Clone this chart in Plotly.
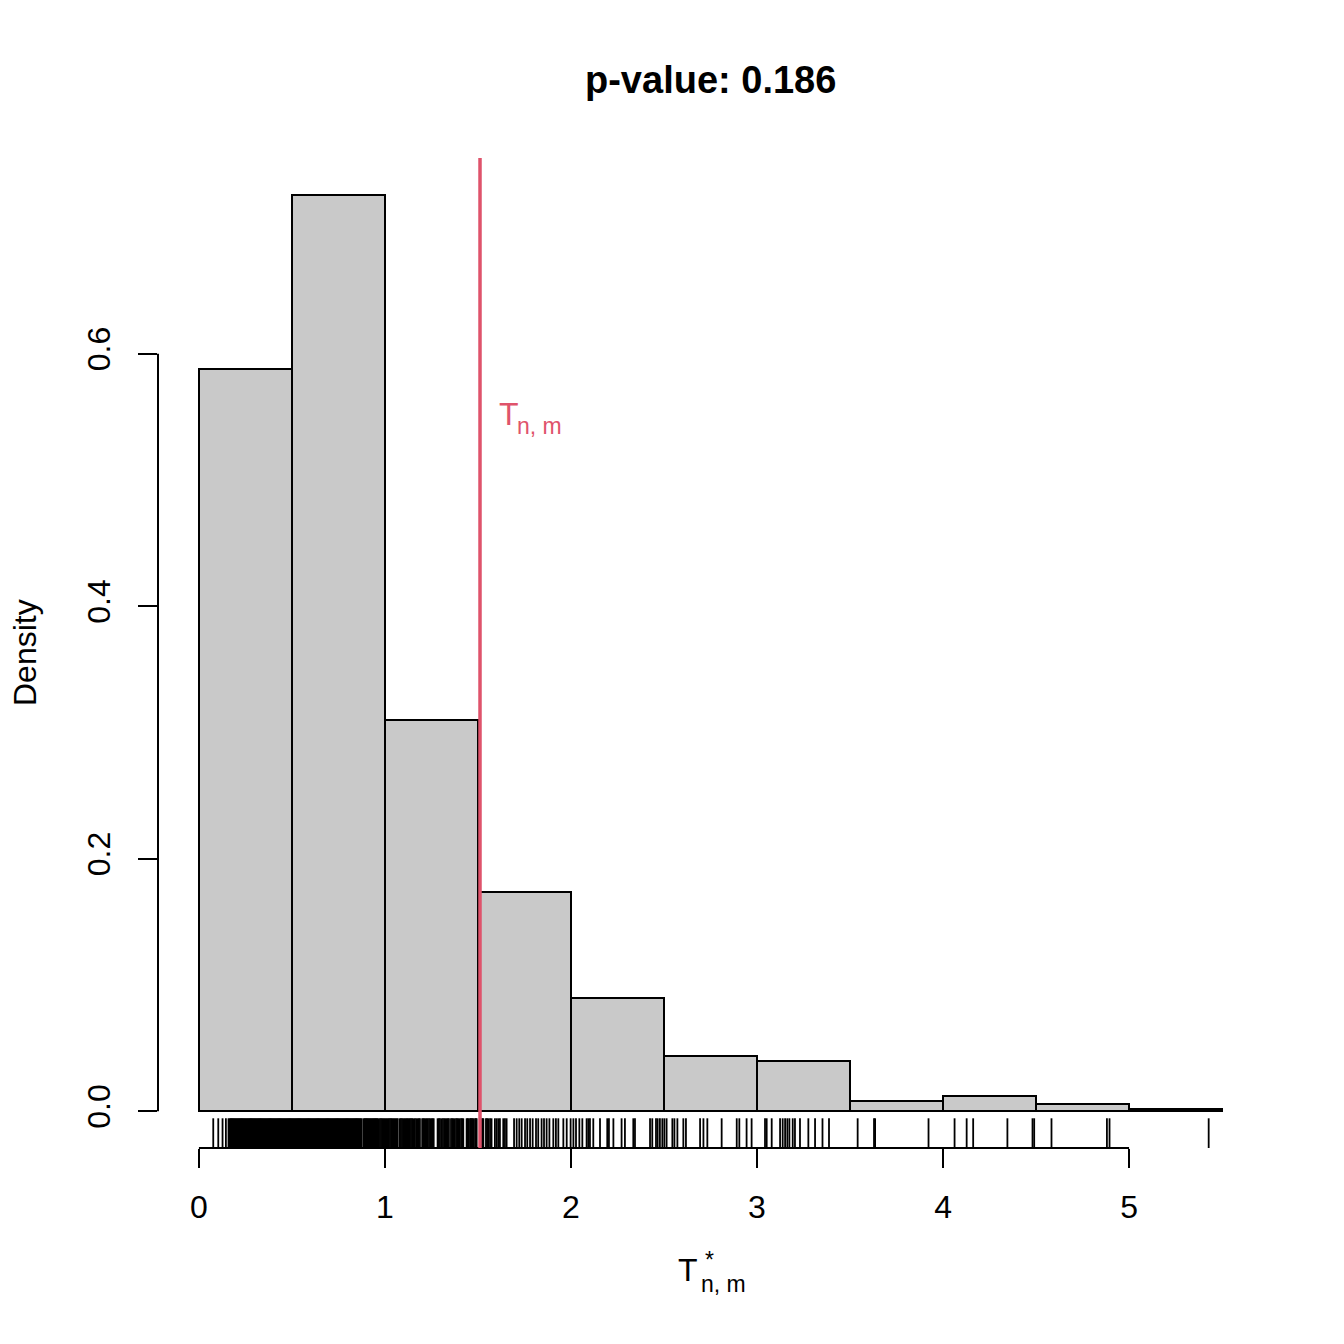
import plotly.graph_objects as go

# ---- data ----
bin_left = [0.0, 0.5, 1.0, 1.5, 2.0, 2.5, 3.0, 3.5, 4.0, 4.5, 5.0]
bin_width = 0.5
counts = [294, 363, 155, 87, 45, 22, 20, 4, 6, 3, 1]
n_total = 1000
t_stat = 1.511
p_value_text = "p-value: 0.186"
x_ticks = [0, 1, 2, 3, 4, 5]
y_ticks = [0.0, 0.2, 0.4, 0.6]
y_tick_text = ["0.0", "0.2", "0.4", "0.6"]

rug_low = [0.077, 0.104, 0.127, 0.145, 0.159]
rug_dense = [
    0.166, 0.172, 0.178, 0.184, 0.190, 0.196, 0.202, 0.208, 0.214, 0.220,
    0.226, 0.232, 0.238, 0.244, 0.250, 0.256, 0.262, 0.268, 0.274, 0.280,
    0.286, 0.292, 0.298, 0.304, 0.310, 0.316, 0.322, 0.328, 0.334, 0.340,
    0.346, 0.352, 0.358, 0.364, 0.370, 0.376, 0.382, 0.388, 0.394, 0.400,
    0.406, 0.412, 0.418, 0.424, 0.430, 0.436, 0.442, 0.448, 0.454, 0.460,
    0.466, 0.472, 0.478, 0.484, 0.490, 0.496, 0.502, 0.508, 0.514, 0.520,
    0.526, 0.532, 0.538, 0.544, 0.550, 0.556, 0.562, 0.568, 0.574, 0.580,
    0.586, 0.592, 0.598, 0.604, 0.610, 0.616, 0.622, 0.628, 0.634, 0.640,
    0.646, 0.652, 0.658, 0.664, 0.670, 0.676, 0.682, 0.688, 0.694, 0.700,
    0.706, 0.712, 0.718, 0.724, 0.730, 0.736, 0.742, 0.748, 0.754, 0.760,
    0.766, 0.772, 0.778, 0.784, 0.790, 0.796, 0.802, 0.808, 0.814, 0.820,
    0.826, 0.832, 0.838, 0.844, 0.850, 0.856, 0.862, 0.868, 0.874,
    0.886, 0.892, 0.898, 0.904, 0.910, 0.916, 0.922, 0.928, 0.934, 0.940,
    0.946, 0.952, 0.958, 0.964]
rug_mid = [
    0.973, 0.979, 0.985, 0.991, 0.997, 1.003, 1.009, 1.015, 1.021, 1.027,
    1.033, 1.039, 1.045, 1.051, 1.057, 1.063, 1.069, 1.080, 1.086, 1.092,
    1.099, 1.105, 1.111, 1.117, 1.122, 1.128, 1.134, 1.140, 1.146, 1.152,
    1.161, 1.168, 1.176, 1.182, 1.188, 1.200, 1.206, 1.211, 1.218, 1.224,
    1.230, 1.237, 1.244, 1.251, 1.256, 1.262, 1.283, 1.290, 1.296, 1.305,
    1.312, 1.319, 1.325, 1.332, 1.338, 1.344, 1.355, 1.361, 1.367, 1.374,
    1.382, 1.388, 1.394, 1.401, 1.409, 1.415, 1.421, 1.439, 1.444, 1.448,
    1.457, 1.462, 1.466, 1.471, 1.475, 1.484, 1.489, 1.493, 1.520, 1.525,
    1.529, 1.543, 1.549, 1.556, 1.565, 1.573, 1.591, 1.600, 1.609, 1.618,
    1.636, 1.645, 1.654, 1.694, 1.708, 1.722, 1.735, 1.753, 1.765, 1.780,
    1.794, 1.812, 1.824, 1.842, 1.855, 1.869, 1.884, 1.905, 1.919, 1.932,
    1.959, 1.977, 1.998, 2.013, 2.027, 2.045, 2.061, 2.084, 2.093, 2.102,
    2.120, 2.156, 2.195, 2.204, 2.228, 2.272, 2.290, 2.335, 2.344, 2.425,
    2.437, 2.457, 2.466, 2.478, 2.491, 2.502, 2.514, 2.545, 2.556, 2.572,
    2.604, 2.618, 2.694, 2.712, 2.733, 2.810, 2.891, 2.905, 2.944, 2.971,
    3.043, 3.052, 3.079, 3.124, 3.138, 3.151, 3.163, 3.174, 3.192, 3.204,
    3.231, 3.276, 3.312, 3.352, 3.387]
rug_high = [3.541, 3.629, 3.635, 3.922, 4.062, 4.127, 4.162, 4.346, 4.481,
            4.490, 4.583, 4.881, 4.895, 5.428]

# ---- derived ----
density = [c / (n_total * bin_width) for c in counts]
centers = [b + bin_width / 2 for b in bin_left]
ymax = max(density)
y_lo = -0.04 * ymax
y_hi = 1.04 * ymax
span = bin_left[-1] + bin_width - bin_left[0]
x_lo = bin_left[0] - 0.04 * span
x_hi = bin_left[-1] + bin_width + 0.04 * span
rug_top = y_lo + 0.03 * (y_hi - y_lo)

FONT = "Liberation Sans, Arial, Helvetica, sans-serif"
RED = "#DF536B"

fig = go.Figure()
fig.add_trace(go.Bar(
    x=centers, y=density, width=bin_width,
    marker=dict(color="#C9C9C9", line=dict(color="black", width=2)),
    hoverinfo="skip", showlegend=False))


def rug_xy(vals):
    rx, ry = [], []
    for v in vals:
        rx += [v, v, None]
        ry += [y_lo, rug_top, None]
    return rx, ry


for vals, w in [(rug_dense, 2.2), (rug_low + rug_mid + rug_high, 1.8)]:
    rx, ry = rug_xy(vals)
    fig.add_trace(go.Scatter(x=rx, y=ry, mode="lines",
                             line=dict(color="black", width=w),
                             hoverinfo="skip", showlegend=False))

shapes = [
    dict(type="line", xref="x", yref="paper", x0=x_ticks[0], x1=x_ticks[-1],
         y0=0, y1=0, line=dict(color="black", width=2)),
    dict(type="line", xref="paper", yref="y", x0=0, x1=0,
         y0=y_ticks[0], y1=y_ticks[-1], line=dict(color="black", width=2)),
    dict(type="line", xref="x", yref="paper", x0=t_stat, x1=t_stat,
         y0=0, y1=1, line=dict(color=RED, width=3.5)),
]

annotations = [
    dict(text="<b>" + p_value_text + "</b>", xref="paper", yref="paper",
         x=0.5, y=(1344 - 80 - 196) / 990, xanchor="center", yanchor="middle",
         showarrow=False, font=dict(family=FONT, size=38, color="black")),
    dict(text="Density", xref="paper", yref="paper",
         x=(25 - 158) / 1105, y=(1148 - 653) / 990, textangle=-90,
         xanchor="center", yanchor="middle", showarrow=False,
         font=dict(family=FONT, size=32, color="black")),
    # x-axis title T*_{n, m}
    dict(text="T", xref="paper", yref="paper",
         x=(688 - 158) / 1105, y=(1148 - 1270) / 990,
         xanchor="center", yanchor="middle", showarrow=False,
         font=dict(family=FONT, size=32, color="black")),
    dict(text="*", xref="paper", yref="paper",
         x=(709 - 158) / 1105, y=(1148 - 1260) / 990,
         xanchor="center", yanchor="middle", showarrow=False,
         font=dict(family=FONT, size=23, color="black")),
    dict(text="n, m", xref="paper", yref="paper",
         x=(699 - 158) / 1105, y=(1148 - 1284) / 990,
         xanchor="left", yanchor="middle", showarrow=False,
         font=dict(family=FONT, size=23, color="black")),
    # red label T_{n, m}
    dict(text="T", xref="x", yref="y", x=t_stat + 0.09, y=0.552,
         xanchor="left", yanchor="middle", showarrow=False,
         font=dict(family=FONT, size=32, color=RED)),
    dict(text="n, m", xref="x", yref="y", x=t_stat + 0.19, y=0.543,
         xanchor="left", yanchor="middle", showarrow=False,
         font=dict(family=FONT, size=23, color=RED)),
]

fig.update_layout(
    width=1344, height=1344,
    margin=dict(l=150, r=89, t=150, b=204, pad=0),
    paper_bgcolor="white", plot_bgcolor="white",
    bargap=0, shapes=shapes, annotations=annotations,
    font=dict(family=FONT, size=32, color="black"),
    xaxis=dict(range=[x_lo, x_hi], showgrid=False, zeroline=False,
               showline=False, ticks="outside", ticklen=19, tickwidth=2,
               tickcolor="black", tickvals=x_ticks,
               ticktext=[str(v) for v in x_ticks],
               tickfont=dict(family=FONT, size=32, color="black"),
               ticklabelstandoff=12),
    yaxis=dict(range=[y_lo, y_hi], showgrid=False, zeroline=False,
               showline=False, ticks="outside", ticklen=19, tickwidth=2,
               tickcolor="black", tickvals=y_ticks, ticktext=y_tick_text,
               tickangle=-90,
               tickfont=dict(family=FONT, size=32, color="black"),
               ticklabelstandoff=15),
)

fig.write_html("out.html")
